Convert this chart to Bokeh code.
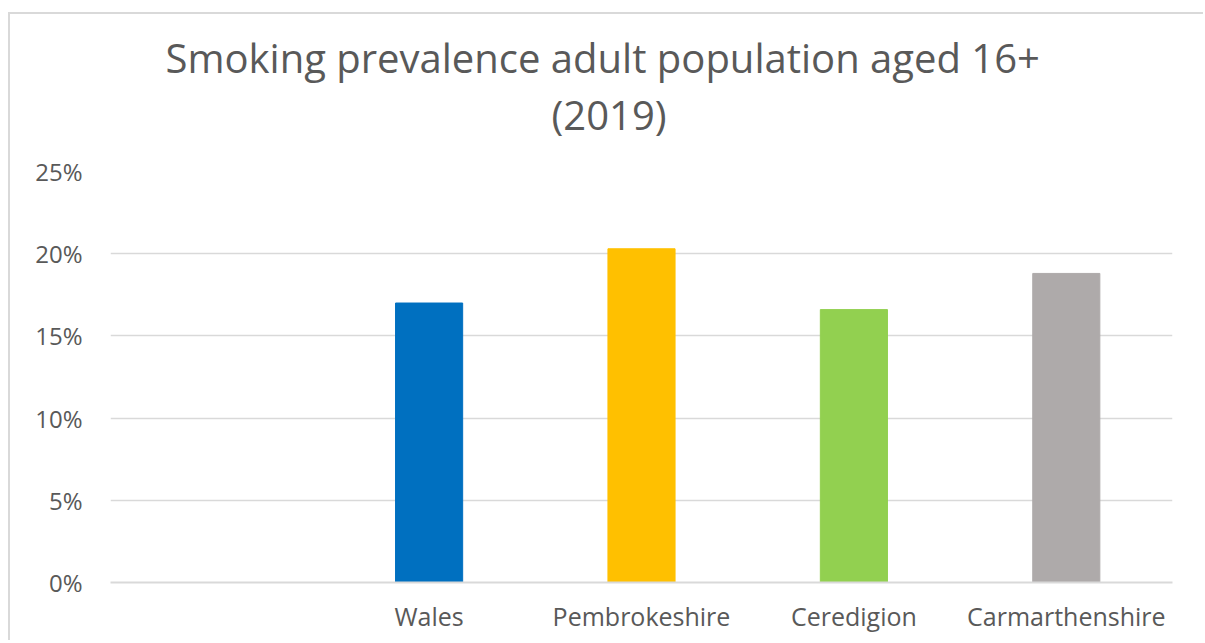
from bokeh.plotting import figure
from bokeh.models import ColumnDataSource, FactorRange, Range1d, Title, NumeralTickFormatter, FixedTicker
from bokeh.embed import file_html
from bokeh.resources import INLINE

categories = ["", "Wales", "Pembrokeshire", "Ceredigion", "Carmarthenshire"]
bar_categories = ["Wales", "Pembrokeshire", "Ceredigion", "Carmarthenshire"]
prevalence = [0.170, 0.203, 0.166, 0.188]
bar_colors = ["#0070C0", "#FFC000", "#92D050", "#AEAAAA"]
y_ticks = [0, 0.05, 0.10, 0.15, 0.20, 0.25]
title_lines = ["Smoking prevalence adult population aged 16+", "(2019)"]

src = ColumnDataSource(dict(x=bar_categories, top=prevalence, color=bar_colors))

W, H = 1195, 628
p = figure(width=W, height=H, x_range=FactorRange(*categories, range_padding=0),
           y_range=Range1d(0, 0.25), output_backend="svg", toolbar_location=None,
           min_border_left=100, min_border_right=33, min_border_top=157, min_border_bottom=60)
p.margin = (12, 0, 0, 8)
p.styles = {"border-left": "2px solid #d9d9d9", "border-top": "2px solid #d9d9d9"}
p.outline_line_color = None
p.background_fill_color = "white"
p.border_fill_color = "white"

p.vbar(x="x", top="top", width=0.316, color="color", source=src)

p.xgrid.grid_line_color = None
p.ygrid.grid_line_color = "#d9d9d9"
p.ygrid.grid_line_width = 1.5
p.ygrid.ticker = FixedTicker(ticks=y_ticks)

p.yaxis.ticker = FixedTicker(ticks=y_ticks)
p.yaxis.formatter = NumeralTickFormatter(format="0%")
p.yaxis.axis_line_color = None
p.yaxis.major_tick_line_color = None
p.yaxis.minor_tick_line_color = None
p.yaxis.major_label_text_font = "Open Sans"
p.yaxis.major_label_text_font_size = "24px"
p.yaxis.major_label_text_color = "#595959"
p.yaxis.major_label_standoff = 22

p.xaxis.axis_line_color = "#d9d9d9"
p.xaxis.axis_line_width = 2
p.xaxis.major_tick_line_color = None
p.xaxis.minor_tick_line_color = None
p.xaxis.major_label_text_font = "Open Sans"
p.xaxis.major_label_text_font_size = "25px"
p.xaxis.major_label_text_color = "#595959"
p.xaxis.major_label_standoff = 10

# spacer between frame and the title lines
p.add_layout(Title(text=" ", text_font_size="2px", standoff=26), "above")
# second line first (closest to the frame), then first line above it
for t, off in [(title_lines[1], 441), (title_lines[0], 55)]:
    p.add_layout(Title(text=t, align="left", offset=off, standoff=0,
                       text_font="Open Sans", text_font_size="40px",
                       text_font_style="normal", text_color="#595959"), "above")

open("out.html", "w").write(file_html(p, INLINE))
